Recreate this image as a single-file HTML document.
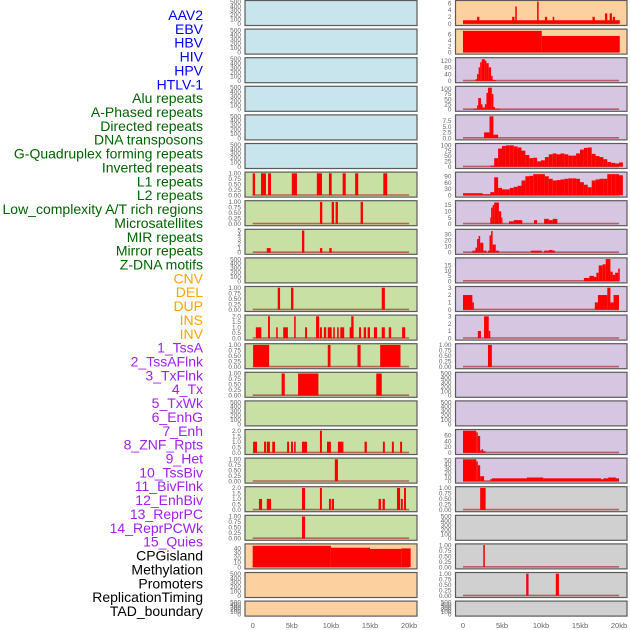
<!DOCTYPE html>
<html><head><meta charset="utf-8"><style>
html,body{margin:0;padding:0;background:#fff;width:630px;height:630px;overflow:hidden}
svg{display:block}
</style></head><body>
<svg id="chart" width="630" height="630" xmlns="http://www.w3.org/2000/svg"></svg>
<script>
// ---------- data ----------
const trackLabels = ["AAV2","EBV","HBV","HIV","HPV","HTLV-1","Alu repeats","A-Phased repeats","Directed repeats","DNA transposons","G-Quadruplex forming repeats","Inverted repeats","L1 repeats","L2 repeats","Low_complexity A/T rich regions","Microsatellites","MIR repeats","Mirror repeats","Z-DNA motifs","CNV","DEL","DUP","INS","INV","1_TssA","2_TssAFlnk","3_TxFlnk","4_Tx","5_TxWk","6_EnhG","7_Enh","8_ZNF_Rpts","9_Het","10_TssBiv","11_BivFlnk","12_EnhBiv","13_ReprPC","14_ReprPCWk","15_Quies","CPGisland","Methylation","Promoters","ReplicationTiming","TAD_boundary"];
const labelGroups = ["v","v","v","v","v","v","r","r","r","r","r","r","r","r","r","r","r","r","r","s","s","s","s","s","c","c","c","c","c","c","c","c","c","c","c","c","c","c","c","o","o","o","o","o"];
const xTickLabels = ["0","5kb","10kb","15kb","20kb"];
const xTickValues = [0,5,10,15,20];

const ticksEmpty = ["0","100","200","300","400","500"];
const ticks01 = ["0.00","0.25","0.50","0.75","1.00"];
const ticks02 = ["0.0","0.5","1.0","1.5","2.0"];
const ticks05 = ["0","1","2","3","4","5"];
const ticks03 = ["0","1","2","3"];
const ticksCpg = ["0","10","20","30","40"];

// left column bins [startKb, endKb, value]
const leftRow6 = [[0,0.3,1],[1.06,1.7,1],[1.96,2.34,1],[5.0,5.66,1],[8.2,8.86,1],[9.75,10.1,1],[11.5,11.9,1],[13.1,13.5,1],[16.7,17.2,1]];
const leftRow7 = [[8.6,8.9,1],[10.1,10.4,1],[10.6,10.9,1],[13.8,14.1,1]];
const leftRow8 = [[1.8,2.3,1],[6.3,6.6,5],[8.6,8.9,1],[9.8,10.1,1]];
const leftRow10 = [[3.2,3.5,1],[4.9,5.2,1],[16.5,16.9,1]];
const leftRow11 = [[0.4,1.1,1],[1.96,2.2,2],[3.0,3.2,1],[3.9,4.5,1],[5.3,5.5,2],[6.7,6.95,1],[8.1,8.5,2],[8.6,8.85,1],[9.1,9.4,1],[9.6,10.1,1],[10.3,10.5,1],[10.8,11.0,1],[11.2,11.7,1],[12.4,12.9,1],[12.6,12.9,2],[13.6,13.85,1],[14.2,14.5,1],[14.7,15.0,1],[15.5,15.9,1],[16.5,16.9,1],[17.4,17.7,1],[19.1,19.5,1]];
const leftRow12 = [[0.05,2.1,1],[9.6,9.95,1],[13.4,13.8,1],[16.3,18.9,1]];
const leftRow13 = [[3.7,4.1,1],[5.8,8.4,1],[15.8,16.5,1]];
const leftRow15 = [[0.05,0.55,1],[1.45,1.7,1],[1.8,2.2,1],[2.5,2.85,1],[4.4,4.65,1],[4.9,5.15,1],[5.3,5.5,1],[6.3,6.95,1],[8.6,8.85,2],[9.5,10.0,1],[10.9,11.6,1],[14.3,14.6,1],[16.65,16.9,1],[17.8,18.05,1],[18.85,19.1,1]];
const leftRow16 = [[10.5,10.9,1]];
const leftRow17 = [[0.8,1.2,1],[1.8,2.35,1],[6.3,6.7,2],[8.6,8.85,2],[9.75,10.0,1],[10.1,10.4,1],[16.1,16.4,1],[16.6,16.9,1],[18.45,18.85,2],[18.95,19.2,1],[19.35,19.6,2]];
const leftRow18 = [[6.3,6.7,1]];
const leftRow19 = [[0,10,45],[10,15,41],[15,19,38.5],[19,20.2,39.5]];

// right column bins
const rightRow0 = [[0,20.1,1],[1.8,2.1,2],[6.3,6.6,2],[6.7,6.9,5],[9.5,9.7,6.4],[10.5,10.8,2],[11.5,11.7,2],[16.6,16.9,2],[18.2,18.5,3],[18.8,19.1,3],[19.2,19.5,2]];
const rightRow1 = [[0,10.1,7.2],[10.1,20.1,5.5]];
const rightRow2 = [[1.6,1.8,10],[1.8,2.0,40],[2.0,2.2,80],[2.2,2.4,110],[2.4,2.8,128],[2.8,3.0,120],[3.0,3.3,105],[3.3,3.6,80],[3.6,3.8,30],[3.8,4.2,5]];
const rightRow3 = [[1.3,1.8,4],[1.8,1.95,20],[1.95,2.3,55],[2.3,2.5,25],[2.5,2.8,10],[2.8,3.0,25],[3.0,3.2,80],[3.2,3.7,105],[3.7,3.9,75],[3.9,4.1,12],[4.1,4.7,4]];
const rightRow4 = [[2.7,3.4,2.5],[3.4,3.9,9.5],[3.9,4.5,1.5]];
const rightRow5Start = 3.5;
const rightRow5Values = [5,40,85,97,100,100,95,90,75,55,40,42,25,30,45,58,62,58,62,58,52,52,62,80,88,90,60,50,45,35,22,18,15,20];
const rightRow6Start = 0;
const rightRow6Values = [10,10,10,10,10,5,5,15,85,35,28,28,35,40,45,70,90,92,100,100,100,90,78,70,72,75,78,80,80,78,62,50,38,70,75,78,78,100,100,100,95];
const rightRow7 = [[3.5,3.6,5],[3.6,3.8,13],[3.8,4.0,15],[4.0,4.6,17],[4.6,4.9,10],[4.9,5.0,5],[5.9,6.5,2],[6.5,7.6,3],[9.1,9.5,3],[10.4,11.0,4],[11.0,11.5,3],[11.5,12.1,4]];
const rightRow8 = [[1.2,1.6,3],[1.6,1.8,8],[1.8,2.0,22],[2.0,2.2,27],[2.2,2.6,16],[2.6,3.0,3],[3.2,3.4,3],[3.4,3.6,28],[3.6,3.8,35],[3.8,4.2,13],[4.2,4.6,3],[8.7,10.1,3],[10.4,11.0,3],[11.0,11.5,4],[11.5,11.8,3]];
const rightRow9 = [[15.5,16.2,3],[16.2,16.8,5],[16.8,17.1,4],[17.1,17.4,8],[17.4,17.9,15],[17.9,18.3,16],[18.3,18.9,21],[18.9,19.2,9],[19.2,19.5,6],[19.5,19.9,8],[19.9,20.1,12]];
const rightRow10 = [[0,1.2,2],[1.2,1.4,1],[16.9,17.3,1],[17.3,18.5,2],[18.5,18.9,3],[18.9,19.3,1],[19.3,20,2]];
const rightRow11 = [[1.9,2.3,1],[2.7,3.3,3],[3.3,3.5,1]];
const rightRow12 = [[3.2,3.7,1]];
const rightRow15 = [[0,1.7,76],[1.7,1.9,70],[1.9,2.2,58],[2.2,2.4,8],[2.4,2.6,12],[2.6,2.9,5]];
const rightRow16 = [[0,1.7,52],[1.7,1.9,47],[1.9,2.2,38],[2.2,2.7,12],[2.7,3.5,1],[3.5,3.7,5],[3.7,8.2,7],[8.2,10.3,9],[10.3,17.7,7],[17.7,18.0,5],[18.0,18.6,7],[18.6,19.6,9],[19.6,20,7]];
const rightRow17 = [[2.2,2.9,1]];
const rightRow19 = [[2.6,2.8,1]];
const rightRow20 = [[8.1,8.4,1],[11.9,12.3,1]];

// ---------- rendering ----------
const NS = "http://www.w3.org/2000/svg";
const svg = document.getElementById("chart");
function mk(tag, attrs, parent){ const e=document.createElementNS(NS,tag); for(const k in attrs) e.setAttribute(k,attrs[k]); (parent||svg).appendChild(e); return e; }
function profileToBins(start, vals){ const out=[]; for(let i=0;i<vals.length;i++){ out.push([start+i*0.5, start+(i+1)*0.5, vals[i]]); } return out; }

const BG = {blue:"#c8e4ec", green:"#c9e0a4", peach:"#fdd19f", lav:"#d6c6e2", gray:"#d0d0d0"};
const labelColors = {v:"#0000ff", r:"#006400", s:"#ffa500", c:"#a020f0", o:"#000000"};

function rowTop(i){ return 0.5 + i*28.6; }
function rowH(i){ return i===21 ? 15 : 25; }
const cols = {
  left: {x0:245, x1:417, zero:252.7, pxkb:7.82},
  right:{x0:455.5, x1:627, zero:463, pxkb:7.8}
};

function xScale(col, kb){ return col.zero + kb*col.pxkb; }

function drawPanel(side, row, bg, bins, ymax, tickLabels){
  const col = cols[side];
  const top = rowTop(row), h = rowH(row);
  const g = mk("g", {});
  
  
  const r = mk("rect", {x:col.x0, y:top, width:col.x1-col.x0, height:h, fill:bg, stroke:"#5a5a5a", "stroke-width":1.2}, g);
  
  
  const yTop = top + 1.2, yBot = top + h - 1.8;
  const yScale = v => yBot - (v/ymax)*(yBot-yTop);
  tickLabels.forEach(t => {
    const v = parseFloat(t);
    const tx = mk("text", {x:col.x0-4, y:yScale(v)+2.2, "text-anchor":"end", "font-size":6.5, fill:"#666", "font-family":"Liberation Sans, sans-serif"}, g);
    tx.textContent = t;
    
    
  });
  if (bins && bins.length){
    const bl = mk("line", {x1:xScale(col,0), x2:xScale(col,20), y1:yBot-0.3, y2:yBot-0.3, stroke:"#b03a3a", "stroke-width":1.6, opacity:0.75}, g);
    
    
    bins.forEach(b => {
      const x = xScale(col,b[0]), w = Math.max(1.2, (b[1]-b[0])*col.pxkb), y = yScale(b[2]);
      const br = mk("rect", {x:x, y:y, width:w, height:Math.max(0,yBot-y), fill:"#ff0000"}, g);
      
      
    });
  }
}

// left column
for (let i=0;i<6;i++) drawPanel("left", i, BG.blue, null, 500, ticksEmpty);
drawPanel("left",6,BG.green,leftRow6,1,ticks01);
drawPanel("left",7,BG.green,leftRow7,1,ticks01);
drawPanel("left",8,BG.green,leftRow8,5,ticks05);
drawPanel("left",9,BG.green,null,500,ticksEmpty);
drawPanel("left",10,BG.green,leftRow10,1,ticks01);
drawPanel("left",11,BG.green,leftRow11,2,ticks02);
drawPanel("left",12,BG.green,leftRow12,1,ticks01);
drawPanel("left",13,BG.green,leftRow13,1,ticks01);
drawPanel("left",14,BG.green,null,500,ticksEmpty);
drawPanel("left",15,BG.green,leftRow15,2,ticks02);
drawPanel("left",16,BG.green,leftRow16,1,ticks01);
drawPanel("left",17,BG.green,leftRow17,2,ticks02);
drawPanel("left",18,BG.green,leftRow18,1,ticks01);
drawPanel("left",19,BG.peach,leftRow19,46.5,ticksCpg);
drawPanel("left",20,BG.peach,null,500,ticksEmpty);
drawPanel("left",21,BG.peach,null,500,ticksEmpty);

// right column
drawPanel("right",0,BG.peach,rightRow0,6.4,["0","2","4","6"]);
drawPanel("right",1,BG.peach,rightRow1,7.4,["0","2","4","6"]);
drawPanel("right",2,BG.lav,rightRow2,130,["0","40","80","120"]);
drawPanel("right",3,BG.lav,rightRow3,106,["0","25","50","75","100"]);
drawPanel("right",4,BG.lav,rightRow4,9.6,["0.0","2.5","5.0","7.5"]);
drawPanel("right",5,BG.lav,profileToBins(rightRow5Start,rightRow5Values),103,["0","25","50","75","100"]);
drawPanel("right",6,BG.lav,profileToBins(rightRow6Start,rightRow6Values),104,["0","30","60","90"]);
drawPanel("right",7,BG.lav,rightRow7,17.5,["0","5","10","15"]);
drawPanel("right",8,BG.lav,rightRow8,36,["0","10","20","30"]);
drawPanel("right",9,BG.lav,rightRow9,21,["0","5","10","15"]);
drawPanel("right",10,BG.lav,rightRow10,3,ticks03);
drawPanel("right",11,BG.lav,rightRow11,3,ticks03);
drawPanel("right",12,BG.lav,rightRow12,1,ticks01);
drawPanel("right",13,BG.lav,null,500,ticksEmpty);
drawPanel("right",14,BG.lav,null,500,ticksEmpty);
drawPanel("right",15,BG.lav,rightRow15,76,["0","20","40","60"]);
drawPanel("right",16,BG.lav,rightRow16,52,["0","10","20","30","40","50"]);
drawPanel("right",17,BG.gray,rightRow17,1,ticks01);
drawPanel("right",18,BG.gray,null,500,ticksEmpty);
drawPanel("right",19,BG.gray,rightRow19,1,ticks01);
drawPanel("right",20,BG.gray,rightRow20,1,ticks01);
drawPanel("right",21,BG.gray,null,500,ticksEmpty);

// x axes
["left","right"].forEach(side => {
  const col = cols[side];
  xTickValues.forEach((v,i) => {
    const t = mk("text", {x:xScale(col,v), y:628, "text-anchor":"middle", "font-size":7.5, fill:"#666", "font-family":"Liberation Sans, sans-serif"});
    t.textContent = xTickLabels[i];
    
    
  });
});

// track labels
trackLabels.forEach((lab,i) => {
  const t = mk("text", {x:203, y:15 + i*13.86 + 5, "text-anchor":"end", "font-size":14, fill:labelColors[labelGroups[i]], "font-family":"Liberation Sans, sans-serif"});
  t.textContent = lab;
  
  
});
</script>
</body></html>
